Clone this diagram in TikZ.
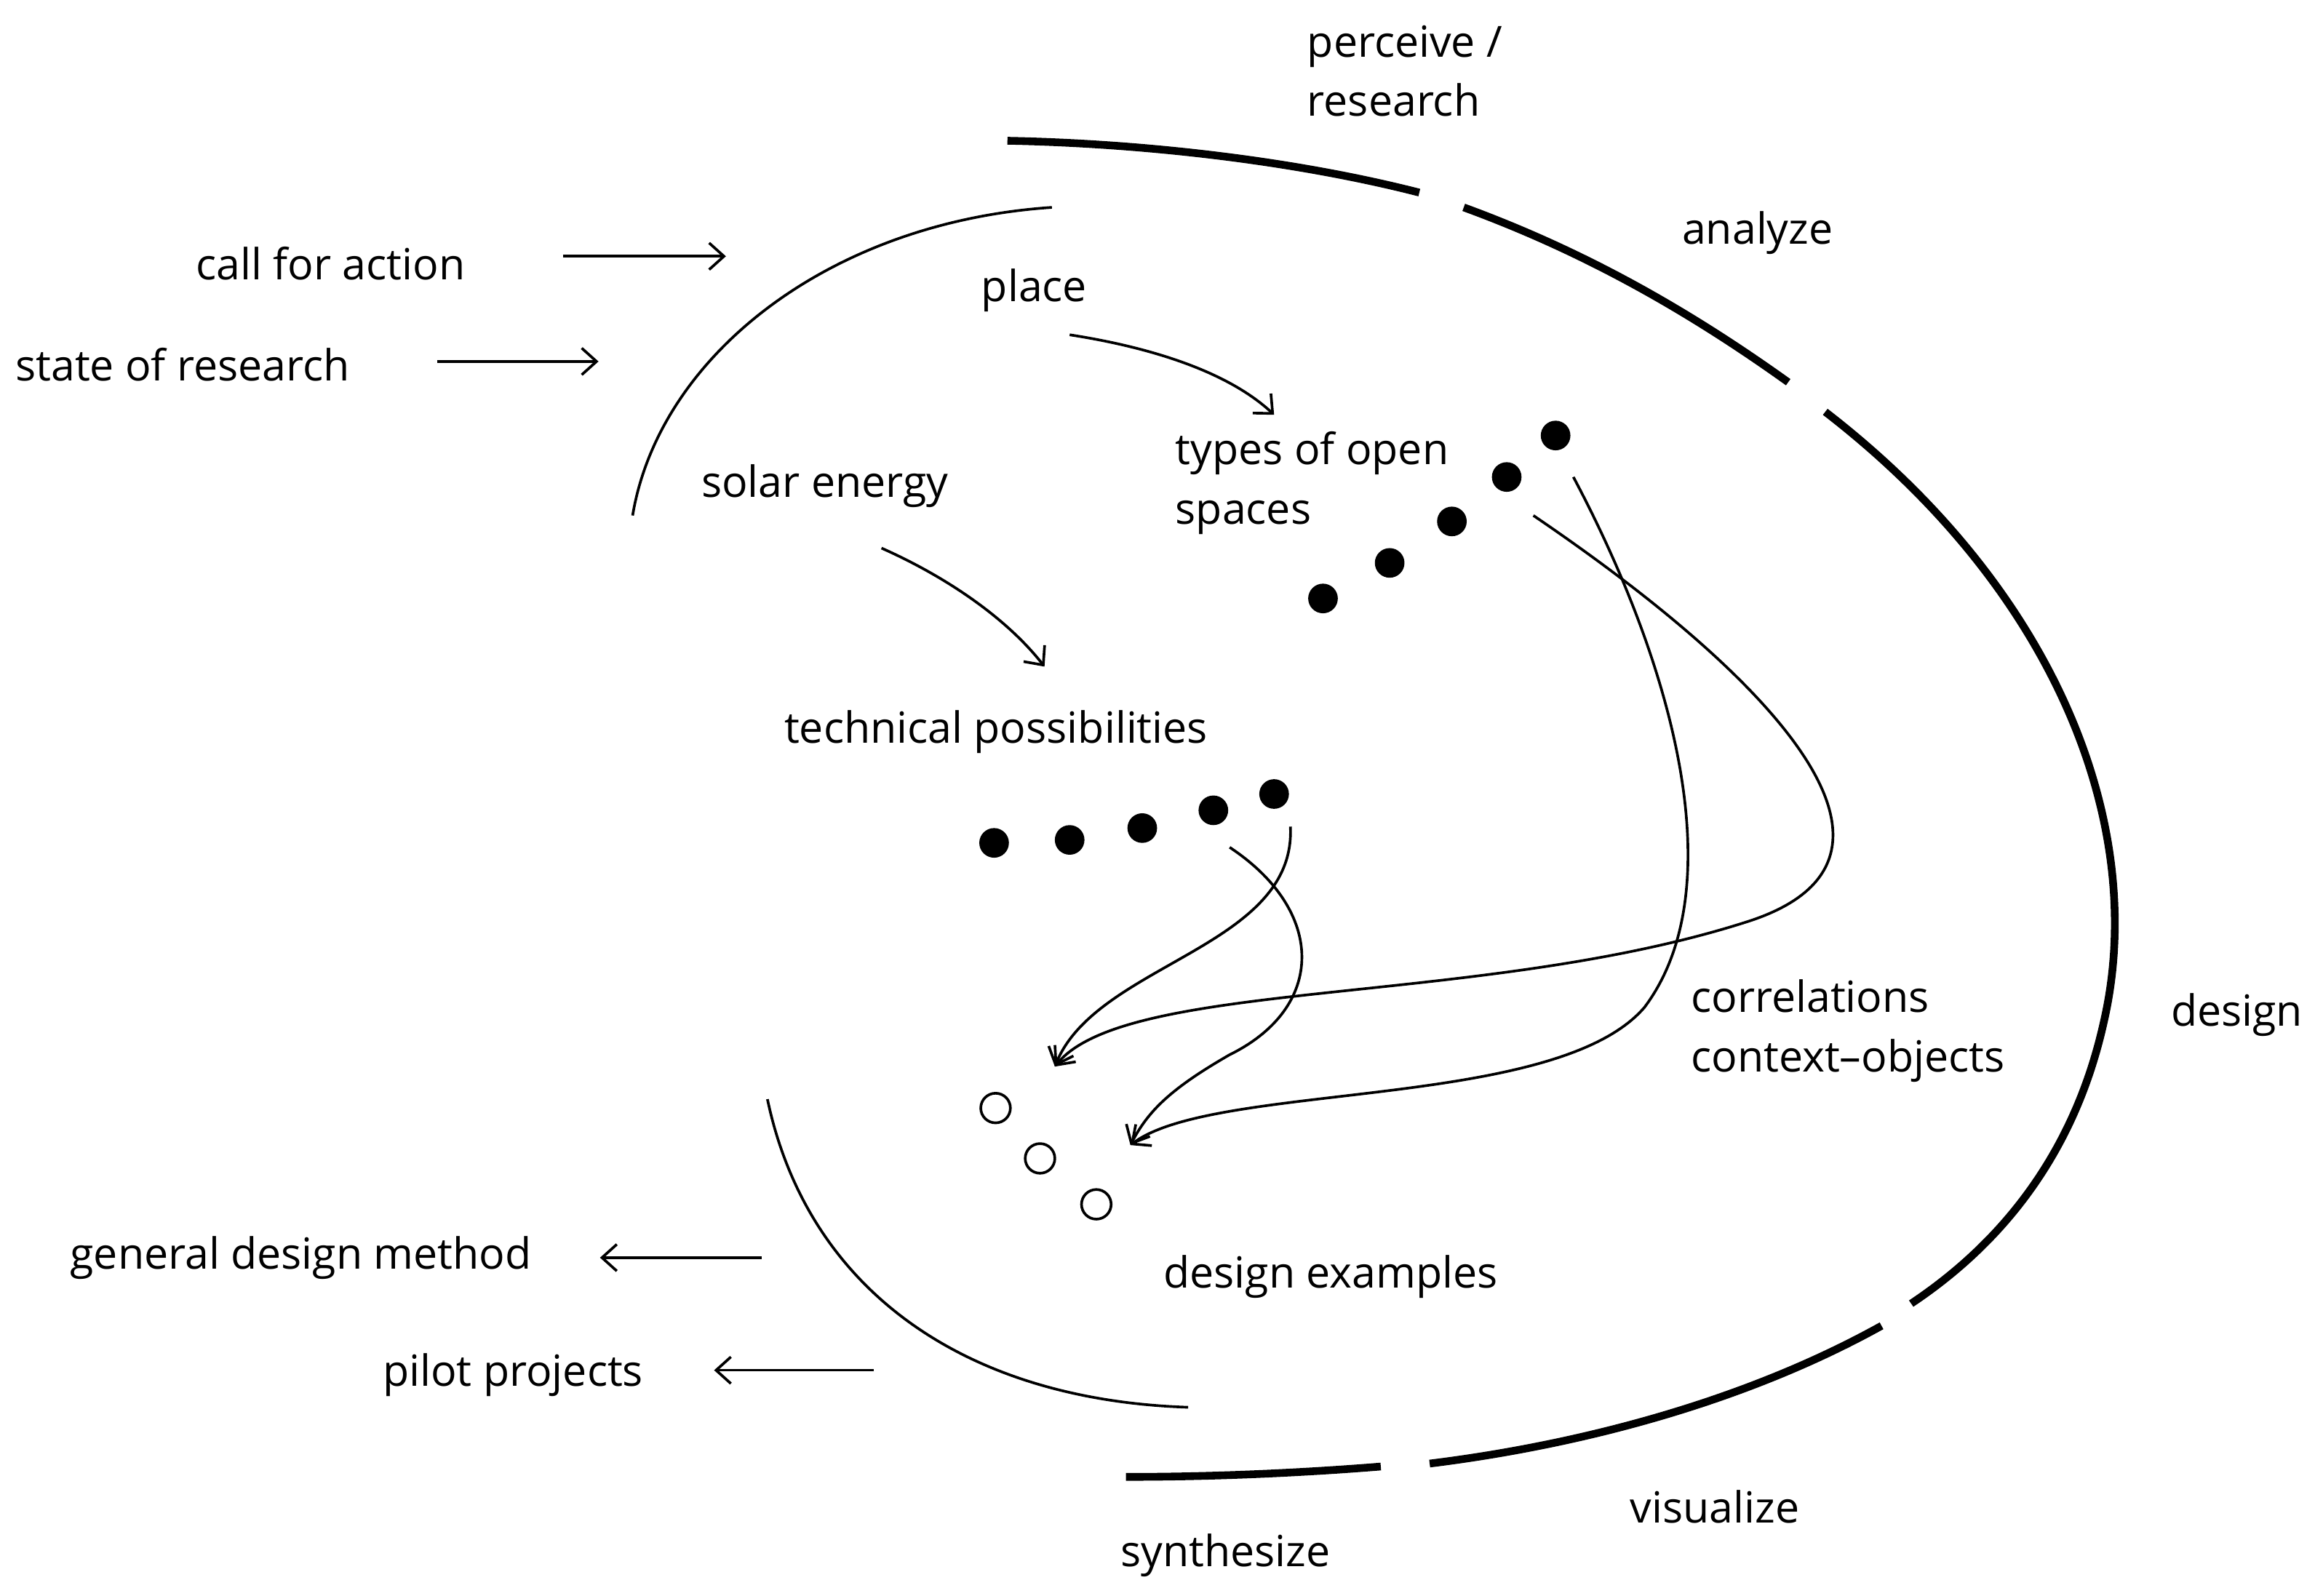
\documentclass[tikz,border=0pt]{standalone}
\usepackage{fontspec}
\setmainfont{Open Sans}
\usetikzlibrary{arrows.meta}
\begin{document}
\begin{tikzpicture}[x=0.5pt,y=-0.5pt,
 lab/.style={anchor=west,font=\fontsize{14.5}{20}\selectfont,align=left,inner sep=0pt},
 thick arc/.style={line width=2.6pt},
 thin/.style={line width=0.9pt},
 arr/.style={thin,-{Straight Barb[length=5pt,width=9pt]}},
 dot/.style={circle,fill=black,minimum size=10pt,inner sep=0pt},
 odot/.style={circle,draw,line width=0.9pt,minimum size=10pt,inner sep=0pt}]
\useasboundingbox (0,0) rectangle (1568,1077);
% outer thick arcs
\draw[thick arc] (680,95) .. controls (780,97) and (880,110) .. (958,130);
\draw[thick arc] (988,140) .. controls (1070,170) and (1140,210) .. (1207,258);
\draw[thick arc] (1232,278) .. controls (1390,400) and (1450,560) .. (1420,690) .. controls (1400,780) and (1350,840) .. (1290,880);
\draw[thick arc] (1270,895) .. controls (1180,945) and (1070,975) .. (965,988);
\draw[thick arc] (932,990) .. controls (870,995) and (810,997) .. (760,997);
% inner thin arcs
\draw[thin] (710,140) .. controls (560,150) and (445,240) .. (427,348);
\draw[thin] (518,742) .. controls (545,870) and (650,945) .. (802,950);
% side arrows
\coordinate (a1s) at (380,173); \coordinate (a1e) at (490,173);
\coordinate (a2s) at (295,244); \coordinate (a2e) at (404,244);
\coordinate (a3s) at (514,849); \coordinate (a3e) at (405,849);
\coordinate (a4s) at (590,925); \coordinate (a4e) at (482,925);
\draw[arr] (a1s) -- (a1e);
\draw[arr] (a2s) -- (a2e);
\draw[arr] (a3s) -- (a3e);
\draw[arr] (a4s) -- (a4e);
\coordinate (p1) at (722,226); \coordinate (p2) at (860,280);
\draw[arr] (p1) .. controls (780,235) and (830,252) .. (p2);
\coordinate (s1) at (595,370); \coordinate (s2) at (705,450);
\draw[arr] (s1) .. controls (640,390) and (680,418) .. (s2);
% dots
\foreach \n/\x/\y in {o1/1050/294,o2/1017/322,o3/980/352,o4/938/380,o5/893/404,t1/860/536,t2/819/547,t3/771/559,t4/722/567,t5/671/569}
  \node[dot] (\n) at (\x,\y) {};
\foreach \n/\x/\y in {e1/672/748,e2/702/782,e3/740/813}
  \node[odot] (\n) at (\x,\y) {};
\coordinate (ta) at (712,720); \coordinate (tb) at (763,773);
\draw[arr] (871,558) .. controls (875,640) and (740,650) .. (ta);
\draw[arr] (830,572) .. controls (895,615) and (895,680) .. (830,712) .. controls (790,735) and (775,750) .. (tb);
\draw[arr] (1035,348) .. controls (1200,460) and (1310,580) .. (1180,622) .. controls (1000,680) and (760,660) .. (ta);
\draw[arr] (1062,322) .. controls (1130,450) and (1170,600) .. (1110,680) .. controls (1050,750) and (820,730) .. (tb);
% labels
\node[lab] (l1) at (882,48) {perceive /\\research};
\node[lab] (l2) at (1135,157) {analyze};
\node[lab] (l3) at (662,196) {place};
\node[lab] (l4) at (132,178) {call for action};
\node[lab] (l5) at (10,246) {state of research};
\node[lab] (l6) at (793,326) {types of open\\spaces};
\node[lab] (l7) at (473,328) {solar energy};
\node[lab] (l8) at (529,494) {technical possibilities};
\node[lab] (l9) at (1141,696) {correlations\\context–objects};
\node[lab] (l10) at (1465,685) {design};
\node[lab] (l11) at (47,849) {general design method};
\node[lab] (l12) at (785,862) {design examples};
\node[lab] (l13) at (258,928) {pilot projects};
\node[lab] (l14) at (1100,1017) {visualize};
\node[lab] (l15) at (756,1050) {synthesize};
\end{tikzpicture}
\end{document}
